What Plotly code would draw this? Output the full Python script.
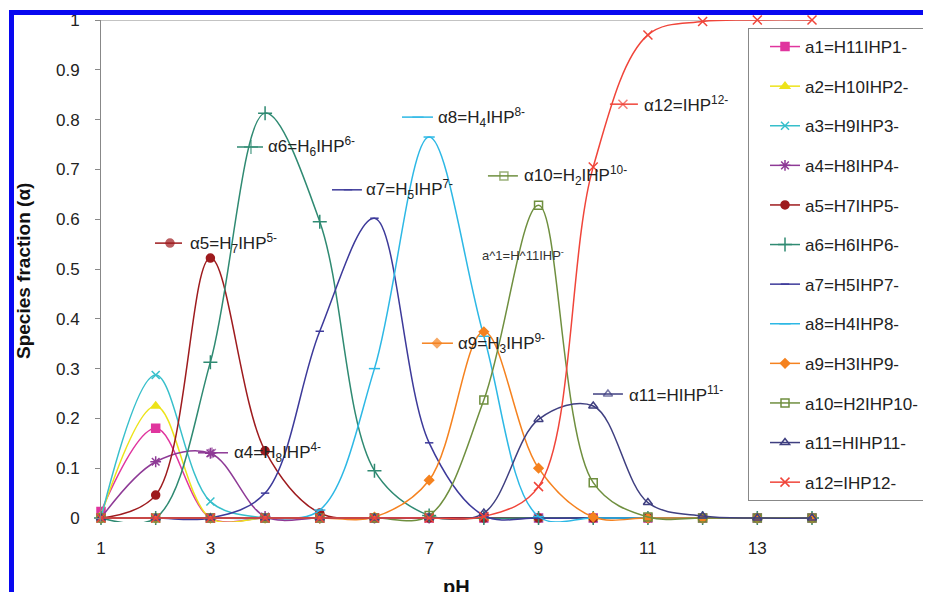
import plotly.graph_objects as go

# ---------------- data ----------------
ph = [1, 2, 3, 4, 5, 6, 7, 8, 9, 10, 11, 12, 13, 14]

a1 = [0.013, 0.180, 0, 0, 0, 0, 0, 0, 0, 0, 0, 0, 0, 0]
a2 = [0.005, 0.225, 0, 0, 0, 0, 0, 0, 0, 0, 0, 0, 0, 0]
a3 = [0, 0.287, 0.033, 0, 0, 0, 0, 0, 0, 0, 0, 0, 0, 0]
a4 = [0, 0.113, 0.130, 0.003, 0, 0, 0, 0, 0, 0, 0, 0, 0, 0]
a5 = [0, 0.046, 0.522, 0.135, 0.010, 0, 0, 0, 0, 0, 0, 0, 0, 0]
a6 = [0, 0, 0.313, 0.813, 0.595, 0.095, 0.005, 0, 0, 0, 0, 0, 0, 0]
a7 = [0, 0, 0, 0.050, 0.375, 0.602, 0.151, 0.005, 0, 0, 0, 0, 0, 0]
a8 = [0, 0, 0, 0, 0.016, 0.300, 0.765, 0.365, 0.003, 0, 0, 0, 0, 0]
a9 = [0, 0, 0, 0, 0, 0.002, 0.076, 0.374, 0.100, 0.002, 0, 0, 0, 0]
a10 = [0, 0, 0, 0, 0, 0, 0.005, 0.237, 0.628, 0.071, 0.002, 0, 0, 0]
a11 = [0, 0, 0, 0, 0, 0, 0, 0.010, 0.198, 0.225, 0.031, 0.004, 0, 0]
a12 = [0, 0, 0, 0, 0, 0, 0, 0.003, 0.063, 0.705, 0.970, 0.997, 1.0, 1.0]

series_names = ["a1=H11IHP1-", "a2=H10IHP2-", "a3=H9IHP3-", "a4=H8IHP4-",
                "a5=H7IHP5-", "a6=H6IHP6-", "a7=H5IHP7-", "a8=H4IHP8-",
                "a9=H3IHP9-", "a10=H2IHP10-", "a11=HIHP11-", "a12=IHP12-"]
series_values = [a1, a2, a3, a4, a5, a6, a7, a8, a9, a10, a11, a12]

x_ticks = [1, 3, 5, 7, 9, 11, 13]
y_ticks = [0, 0.1, 0.2, 0.3, 0.4, 0.5, 0.6, 0.7, 0.8, 0.9, 1]

# ---------------- styles ----------------
STYLES = [
    dict(color="#E0359E", symbol="square", size=8),
    dict(color="#EDE31A", symbol="triangle-up", size=8),
    dict(color="#37BFCB", symbol="x-thin-open", size=8),
    dict(color="#8E3A96", symbol="asterisk-open", size=9),
    dict(color="#9E1B1E", symbol="circle", size=8),
    dict(color="#2F8A72", symbol="cross-thin-open", size=10),
    dict(color="#3D3A9A", symbol="line-ew-open", size=6),
    dict(color="#2DB8E5", symbol="line-ew-open", size=8),
    dict(color="#F5821F", symbol="diamond", size=7),
    dict(color="#6F8F3F", symbol="square-open", size=8),
    dict(color="#3F3F80", symbol="triangle-up-open", size=8),
    dict(color="#F0453A", symbol="x-thin-open", size=9),
]

# in-chart label keys: (series index, text, x0, xmarker, x1, y, xtext)
LABELS = [
    (3, "α4=H<sub>8</sub>IHP<sup>4-</sup>", 2.773, 3.029, 3.322, 0.131, 3.40),
    (4, "α5=H<sub>7</sub>IHP<sup>5-</sup>", 1.987, 2.261, 2.481, 0.552, 2.59),
    (5, "α6=H<sub>6</sub>IHP<sup>6-</sup>", 3.486, 3.742, 3.962, 0.745, 4.02),
    (6, "α7=H<sub>5</sub>IHP<sup>7-</sup>", 5.223, 5.516, 5.771, 0.659, 5.81),
    (7, "α8=H<sub>4</sub>IHP<sup>8-</sup>", 6.503, 6.795, 7.070, 0.805, 7.13),
    (8, "α9=H<sub>3</sub>IHP<sup>9-</sup>", 6.868, 7.143, 7.435, 0.351, 7.49),
    (9, "α10=H<sub>2</sub>IHP<sup>10-</sup>", 8.075, 8.367, 8.623, 0.687, 8.70),
    (10, "α11=HIHP<sup>11-</sup>", 9.995, 10.269, 10.543, 0.249, 10.62),
    (11, "α12=IHP<sup>12-</sup>", 10.305, 10.543, 10.817, 0.831, 10.89),
]

FONT = "Arial, Liberation Sans, sans-serif"

fig = go.Figure()

for i, (name, vals) in enumerate(zip(series_names, series_values)):
    st = STYLES[i]
    fig.add_trace(go.Scatter(
        x=ph, y=vals, name=name, legendgroup=f"g{i}",
        mode="lines+markers",
        line=dict(color=st["color"], width=1.5, shape="spline", smoothing=1.0),
        marker=dict(color=st["color"], symbol=st["symbol"], size=st["size"],
                    line=dict(color=st["color"], width=1.5)),
        cliponaxis=False, hoverinfo="x+y+name",
    ))

annotations = []
for idx, text, x0, xm, x1, yv, xt in LABELS:
    st = STYLES[idx]
    fig.add_trace(go.Scatter(
        x=[x0, xm, x1], y=[yv, yv, yv], mode="lines+markers", showlegend=False,
        line=dict(color=st["color"], width=1.5),
        marker=dict(color=st["color"], symbol=st["symbol"], size=[0, st["size"], 0],
                    line=dict(color=st["color"], width=1.5)),
        hoverinfo="skip", cliponaxis=False,
    ))
    annotations.append(dict(x=xt, y=yv, xref="x", yref="y", text=text, showarrow=False,
                            xanchor="left", yanchor="middle",
                            font=dict(family=FONT, size=17, color="#222")))

annotations.append(dict(x=7.93, y=0.528, xref="x", yref="y", text="a^1=H^11IHP<sup>-</sup>",
                        showarrow=False, xanchor="left", yanchor="middle",
                        font=dict(family=FONT, size=13, color="#333")))

# page is drawn with an 8px body margin, so layout pixel positions are offset by 8
OFF = 8
W, H = 923, 584
L, T = 101 - OFF, 20 - OFF
PW, PH = 711, 502
R = W - L - PW
B = H - T - PH


def px_x(p):
    return (p - OFF - L) / PW


def px_y(p):
    return (H - B - (p - OFF)) / PH


# axis titles
annotations.append(dict(x=px_x(23), y=0.5, xref="paper", yref="paper",
                        text="<b>Species fraction (α)</b>", textangle=-90, showarrow=False,
                        xanchor="center", yanchor="middle",
                        font=dict(family=FONT, size=19, color="#111")))
annotations.append(dict(x=0.5, y=px_y(574), xref="paper", yref="paper",
                        text="<b>pH</b>", showarrow=False,
                        xanchor="center", yanchor="top",
                        font=dict(family=FONT, size=20, color="#111")))

shapes = [
    # top frame line at 1.0
    dict(type="line", xref="x", yref="y", x0=1, x1=14, y0=1, y1=1,
         line=dict(color="#888", width=1), layer="below"),
    # blue border (top and left)
    dict(type="rect", xref="paper", yref="paper", x0=px_x(9), x1=px_x(14),
         y0=px_y(600), y1=px_y(10), fillcolor="#0808F0", line=dict(width=0), layer="above"),
    dict(type="rect", xref="paper", yref="paper", x0=px_x(9), x1=px_x(940),
         y0=px_y(15), y1=px_y(10), fillcolor="#0808F0", line=dict(width=0), layer="above"),
]

fig.update_layout(
    width=W, height=H,
    margin=dict(l=L, r=R, t=T, b=B, autoexpand=False),
    paper_bgcolor="white", plot_bgcolor="white",
    font=dict(family=FONT, size=16, color="#222"),
    xaxis=dict(range=[1, 14], tickvals=x_ticks, showgrid=False, zeroline=False,
               showline=False, ticks="", tickfont=dict(size=17, color="#222"),
               ticklabelstandoff=14, fixedrange=True),
    yaxis=dict(range=[-0.008, 1.0], tickvals=y_ticks, showgrid=False,
               zeroline=True, zerolinecolor="#888", zerolinewidth=1,
               showline=True, linecolor="#888", linewidth=1,
               ticks="outside", ticklen=5, tickcolor="#888",
               tickfont=dict(size=17, color="#222"), ticklabelstandoff=12,
               fixedrange=True),
    legend=dict(x=px_x(748), y=px_y(28), xanchor="left", yanchor="top",
                bgcolor="white", bordercolor="#888", borderwidth=1,
                font=dict(family=FONT, size=17, color="#222"),
                tracegroupgap=14.5, itemwidth=30, indentation=16),
    annotations=annotations,
    shapes=shapes,
    showlegend=True,
)

fig.write_html("out.html")
